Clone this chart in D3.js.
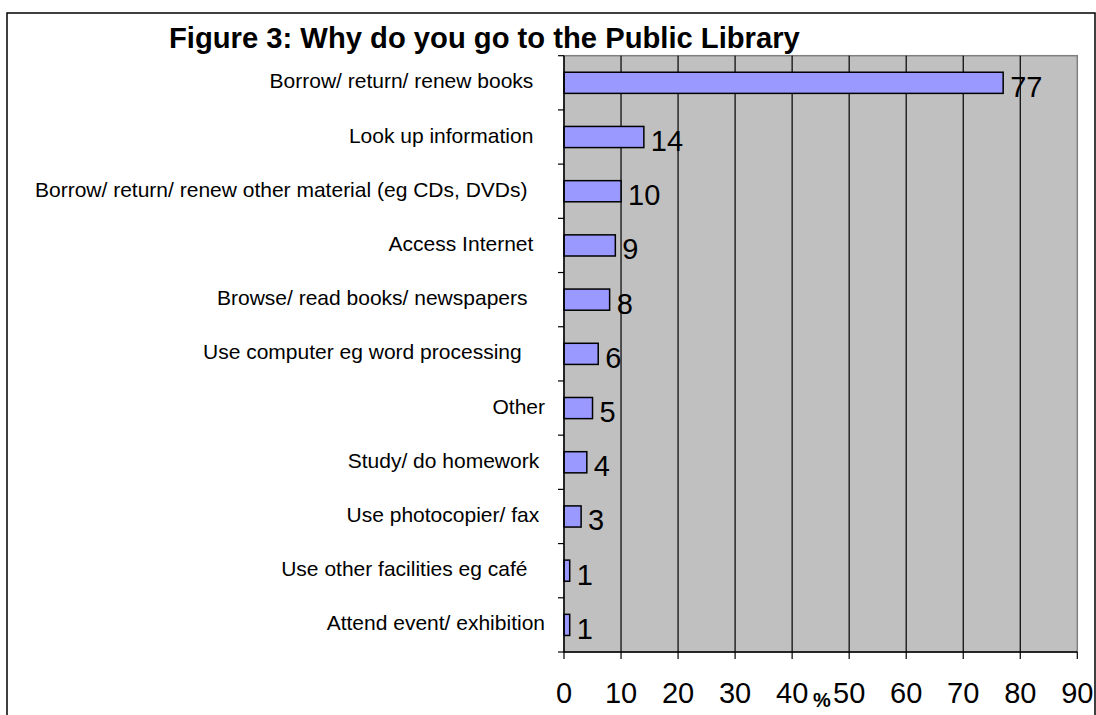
<!DOCTYPE html>
<html><head><meta charset="utf-8">
<script src="https://cdn.jsdelivr.net/npm/d3@7"></script>
<style>body{margin:0;background:#fff;} text{font-family:Arial,"Liberation Sans",sans-serif;}</style>
</head><body>
<svg id="c" width="1096" height="715"></svg>
<script>
const categories = [
  "Borrow/ return/ renew books  ",
  "Look up information  ",
  "Borrow/ return/ renew other material (eg CDs, DVDs)   ",
  "Access Internet  ",
  "Browse/ read books/ newspapers   ",
  "Use computer eg word processing    ",
  "Other",
  "Study/ do homework ",
  "Use photocopier/ fax ",
  "Use other facilities eg café   ",
  "Attend event/ exhibition"
];
const values = [77, 14, 10, 9, 8, 6, 5, 4, 3, 1, 1];
const xTicks = [0, 10, 20, 30, 40, 50, 60, 70, 80, 90];
const title = "Figure 3: Why do you go to the Public Library";
const axisTitle = "%";

const svg = d3.select("#c");
const L = 564, R = 1077.3, T = 55.7, B = 652;
const x = d3.scaleLinear().domain([0, 90]).range([L, R]);
const y = d3.scaleBand().domain(categories).range([T, B]).padding(0);
const barH = y.bandwidth() * 0.39;

// plot background
svg.append("rect").attr("x", L).attr("y", T).attr("width", R - L).attr("height", B - T)
  .attr("fill", "#C0C0C0").attr("stroke", "#808080").attr("stroke-width", 1.5);

// gridlines
svg.append("g").selectAll("line").data(xTicks.filter(d => d > 0 && d < 90)).join("line")
  .attr("x1", d => x(d)).attr("x2", d => x(d)).attr("y1", T).attr("y2", B)
  .attr("stroke", "#000").attr("stroke-width", 1.2);

// bars
svg.append("g").selectAll("rect").data(values).join("rect")
  .attr("x", x(0))
  .attr("y", (d, i) => y(categories[i]) + (y.bandwidth() - barH) / 2)
  .attr("width", d => x(d) - x(0))
  .attr("height", barH)
  .attr("fill", "#9999FF").attr("stroke", "#000").attr("stroke-width", 1.5);

// value labels
svg.append("g").selectAll("text").data(values).join("text")
  .attr("x", d => x(d) + 7)
  .attr("y", (d, i) => y(categories[i]) + y.bandwidth() / 2 + 14)
  .attr("font-size", 29).attr("fill", "#000")
  .text(d => d);

// y axis
const yAxis = svg.append("g");
yAxis.append("line").attr("x1", L).attr("x2", L).attr("y1", T).attr("y2", B)
  .attr("stroke", "#000").attr("stroke-width", 1.5);
const bounds = categories.map(c => y(c)).concat([B]);
yAxis.selectAll("line.tk").data(bounds).join("line").attr("class", "tk")
  .attr("x1", L - 6).attr("x2", L).attr("y1", d => d).attr("y2", d => d)
  .attr("stroke", "#000").attr("stroke-width", 1.2);
yAxis.selectAll("text").data(categories).join("text")
  .attr("x", 545).attr("y", d => y(d) + y.bandwidth() / 2 - 2)
  .attr("text-anchor", "end").attr("dominant-baseline", "central")
  .attr("font-size", 21).style("white-space", "pre")
  .text(d => d);

// x axis
const xAxis = svg.append("g");
xAxis.append("line").attr("x1", L).attr("x2", R).attr("y1", B).attr("y2", B)
  .attr("stroke", "#000").attr("stroke-width", 1.5);
xAxis.selectAll("line.tk").data(xTicks).join("line").attr("class", "tk")
  .attr("x1", d => x(d)).attr("x2", d => x(d)).attr("y1", B).attr("y2", B + 7)
  .attr("stroke", "#000").attr("stroke-width", 1.2);
xAxis.selectAll("text").data(xTicks).join("text")
  .attr("x", d => x(d)).attr("y", 703)
  .attr("text-anchor", "middle").attr("font-size", 29)
  .text(d => d);
svg.append("text").attr("x", 822).attr("y", 707).attr("text-anchor", "middle")
  .attr("font-size", 20).attr("font-weight", "bold").text(axisTitle);

// title
svg.append("text").attr("x", 169).attr("y", 48).attr("font-size", 29.2).attr("font-weight", "bold")
  .text(title);

// frame
svg.append("rect").attr("x", 7).attr("y", 13).attr("width", 1088).attr("height", 720)
  .attr("fill", "none").attr("stroke", "#000").attr("stroke-width", 1.5);
</script>
</body></html>
